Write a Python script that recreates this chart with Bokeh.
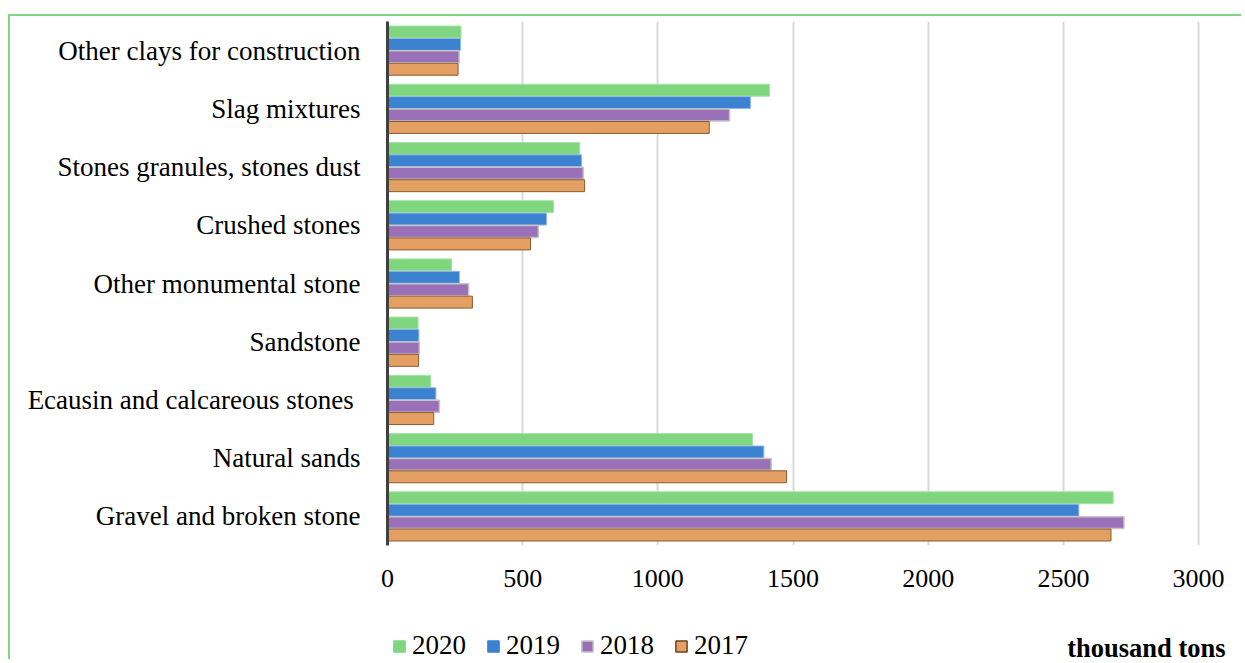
from bokeh.plotting import figure
from bokeh.layouts import column
from bokeh.models import FactorRange, Range1d, ColumnDataSource, Legend, LegendItem, Label
from bokeh.transform import dodge
from bokeh.embed import file_html
from bokeh.resources import INLINE

categories = [
    "Other clays for construction",
    "Slag mixtures",
    "Stones granules, stones dust",
    "Crushed stones",
    "Other monumental stone",
    "Sandstone",
    "Ecausin and calcareous stones ",
    "Natural sands",
    "Gravel and broken stone",
]
years = ["2020", "2019", "2018", "2017"]
v2020 = [272, 1413, 711, 614, 237, 113, 160, 1350, 2684]
v2019 = [270, 1343, 718, 588, 266, 116, 179, 1392, 2557]
v2018 = [265, 1265, 724, 558, 300, 118, 192, 1419, 2724]
v2017 = [261, 1190, 729, 529, 314, 115, 171, 1476, 2676]
x_ticks = [0, 500, 1000, 1500, 2000, 2500, 3000]
unit_label = "thousand tons"

FONT = "Liberation Serif"
BORDER = "2px solid #80D680"

src = ColumnDataSource(dict(cat=categories, v2020=v2020, v2019=v2019, v2018=v2018, v2017=v2017))
factors = list(reversed(categories))

# frame runs a little past the 3000 gridline (as in the original chart area)
xr = Range1d(0, 3118)
p = figure(width=1233, height=585, y_range=FactorRange(factors=factors),
           x_range=xr, output_backend="svg", toolbar_location=None,
           min_border_left=377, min_border_top=5, min_border_right=13, min_border_bottom=56)
p.margin = (14, 0, 0, 8)
p.styles = {"border-top": BORDER, "border-left": BORDER}
p.outline_line_color = None
p.background_fill_color = "white"
p.border_fill_color = "white"

colors = ["#7FD67F", "#3B82D0", "#9A70B8", "#E4A062"]
lines = ["#A6E3A6", "#8FB7E6", "#C4C4C4", "#8C5A2E"]
lw = [1, 1, 1.5, 1]
offsets = [0.32, 0.107, -0.107, -0.32]
fields = ["v2020", "v2019", "v2018", "v2017"]
for f, c, lc, w, off in zip(fields, colors, lines, lw, offsets):
    p.hbar(y=dodge("cat", off, range=p.y_range), left=0, right=f, height=0.205,
           source=src, fill_color=c, line_color=lc, line_width=w)

p.xaxis.ticker = x_ticks
p.xaxis.axis_line_color = None
p.xaxis.major_tick_line_color = None
p.xaxis.minor_tick_line_color = None
p.xaxis.major_label_standoff = 18
p.xaxis.major_label_text_font = FONT
p.xaxis.major_label_text_font_size = "26px"
p.xaxis.major_label_text_color = "black"

p.yaxis.axis_line_color = "#404040"
p.yaxis.axis_line_width = 3
p.yaxis.major_tick_line_color = None
p.yaxis.minor_tick_line_color = None
p.yaxis.major_label_standoff = 21
p.yaxis.major_label_text_font = FONT
p.yaxis.major_label_text_font_size = "27px"
p.yaxis.major_label_text_color = "black"

p.xgrid.grid_line_color = "#D9D9D9"
p.xgrid.grid_line_width = 2
p.ygrid.grid_line_color = None

# legend strip below the chart (frame aligned with the main chart)
p2 = figure(width=1233, height=60, x_range=xr, y_range=Range1d(0, 60),
            output_backend="svg", toolbar_location=None,
            min_border_left=377, min_border_right=13, min_border_top=0, min_border_bottom=0,
            x_axis_type=None, y_axis_type=None)
p2.margin = (0, 0, 0, 8)
p2.styles = {"border-left": BORDER}
p2.outline_line_color = None
p2.xgrid.visible = False
p2.ygrid.visible = False
p2.background_fill_color = "white"
p2.border_fill_color = "white"

leg_lines = ["#7FD67F", "#3B82D0", "#C4C4C4", "#6E441E"]
items = []
proxy = ColumnDataSource(dict(x=[float("nan")], y=[float("nan")]))
for yr, c, lc in zip(years, colors, leg_lines):
    r = p2.rect(x="x", y="y", width=1, height=1, source=proxy,
                fill_color=c, line_color=lc, line_width=1.5)
    items.append(LegendItem(label=yr, renderers=[r]))

legend = Legend(items=items, orientation="horizontal", location=(5, -2),
                glyph_width=14, glyph_height=14, label_standoff=6, spacing=20,
                label_text_font=FONT, label_text_font_size="27px", label_text_color="black",
                padding=0, margin=0, border_line_color=None, background_fill_alpha=0)
p2.add_layout(legend)

p2.add_layout(Label(x=3000, y=12, x_offset=27, text=unit_label, text_align="right",
                    text_baseline="middle", text_font=FONT, text_font_size="26.5px",
                    text_font_style="bold", text_color="black"))

layout = column(p, p2, spacing=0)
open("out.html", "w").write(file_html(layout, INLINE))
